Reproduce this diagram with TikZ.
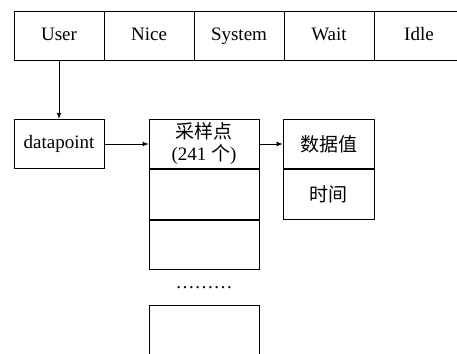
\documentclass[tikz,border=0pt]{standalone}
\usepackage{fontspec}
\setmainfont{Liberation Serif}
\newfontfamily\cjk{Noto Sans CJK SC}
\usetikzlibrary{arrows.meta}
\begin{document}
\begin{tikzpicture}[x=1pt,y=-1pt,
  cell/.style={draw,line width=0.9pt,minimum width=90pt,minimum height=49.5pt,inner sep=0pt,text height=13pt,text depth=4pt,font=\fontsize{19}{21}\selectfont},
  scell/.style={draw,line width=0.9pt,minimum width=110pt,minimum height=49.5pt,inner sep=0pt,font=\fontsize{19}{22}\selectfont,align=center},
  dcell/.style={draw,line width=0.9pt,minimum width=91pt,minimum height=49.5pt,inner sep=0pt,font=\fontsize{19}{21}\selectfont\cjk},
  arr/.style={line width=0.9pt,-{Latex[length=6pt,width=5pt]}}]
\useasboundingbox (0,0) rectangle (457,353);
\node[cell] (user) at (59,36) {User};
\node[cell] (nice) at (149,36) {Nice};
\node[cell] (system) at (239,36) {System};
\node[cell] (wait) at (329,36) {Wait};
\node[cell] (idle) at (419,36) {Idle};
\node[cell] (dp) at (59,144) {datapoint};
\node[scell] (s1) at (204,144) {{\cjk 采样点}\\(241 {\cjk 个})};
\node[scell,anchor=north] (s2) at (s1.south) {};
\node[scell,anchor=north] (s3) at (s2.south) {};
\node[font=\fontsize{19}{21}\selectfont,inner sep=0pt] (dots) at (204,288) {………};
\node[scell,anchor=north,minimum height=58pt] (s4) at (204,305) {};
\node[dcell] (d1) at (328.5,144) {数据值};
\node[dcell,anchor=north] (d2) at (d1.south) {时间};
\draw[arr] (user.south) -- (dp.north);
\draw[arr] (dp.east) -- (s1.west);
\draw[arr] (s1.east) -- (d1.west);
\end{tikzpicture}
\end{document}
